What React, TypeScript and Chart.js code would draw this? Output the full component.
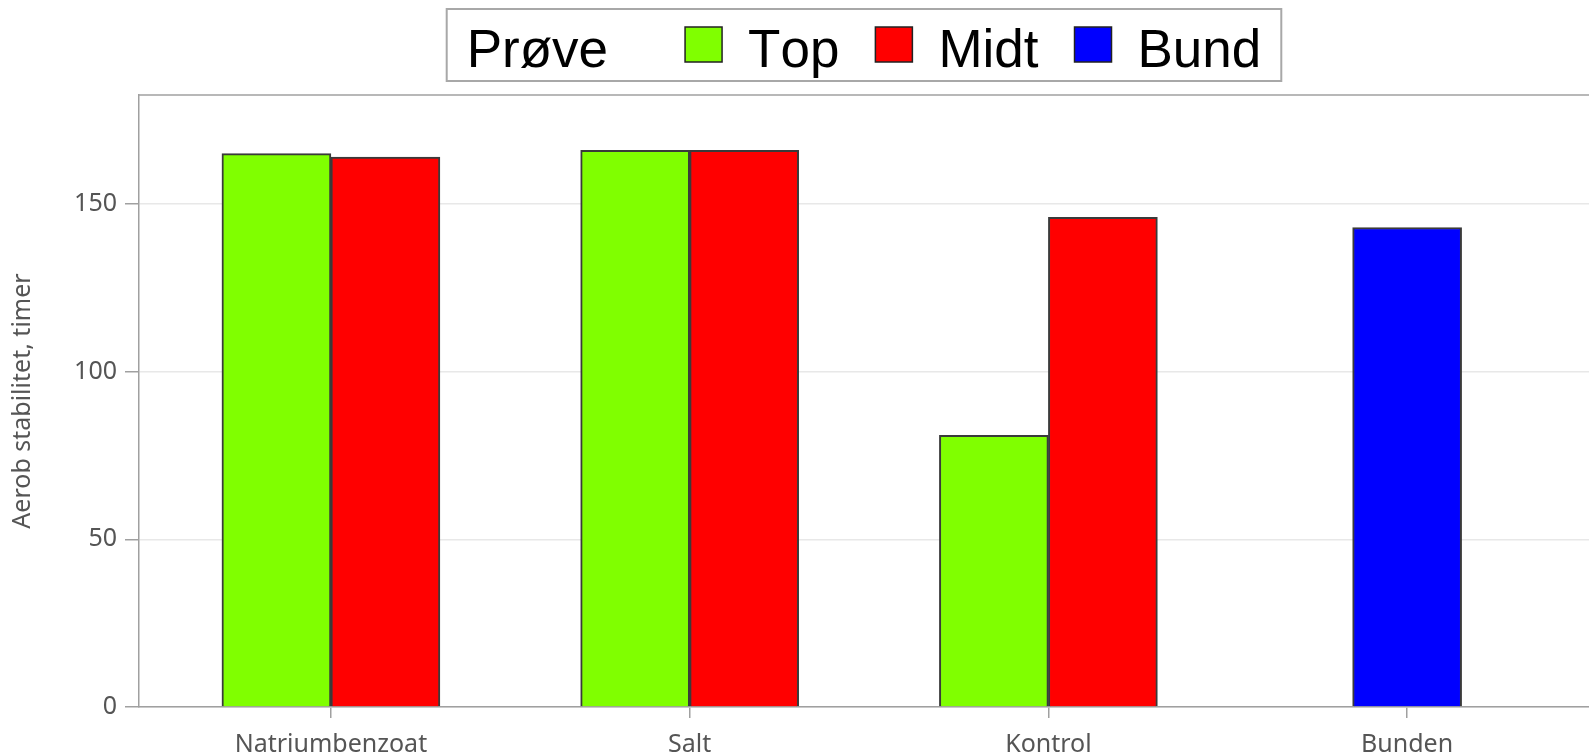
import React, { useEffect, useRef } from "react";
import { Chart, registerables } from "chart.js";

Chart.register(...registerables);

const categories = ["Natriumbenzoat", "Salt", "Kontrol", "Bunden"];
const seriesNames = ["Top", "Midt", "Bund"];
const topValues: (number | null)[] = [165, 166, 81, null];
const midtValues: (number | null)[] = [164, 166, 146, null];
const bundValues: (number | null)[] = [null, null, null, 143];
const seriesColors = ["#80FF00", "#FF0000", "#0000FF"];
const legendTitle = "Prøve";
const yTitle = "Aerob stabilitet, timer";
const yTicks = [0, 50, 100, 150];

const AXIS_FONT = "'Noto Sans', 'Open Sans', sans-serif";
const LEGEND_FONT = "'Liberation Sans', Arial, sans-serif";
const FRAME = "#a0a0a0";

const legendPlugin = {
  id: "customLegend",
  afterDraw(chart: any) {
    const ctx = chart.ctx;
    const area = chart.chartArea;
    ctx.save();
    ctx.font = `53px ${LEGEND_FONT}`;
    try {
      (ctx as any).fontKerning = "none";
    } catch (e) {}
    const padL = 20;
    const padR = 20;
    const titleGap = 77;
    const box = 37;
    const boxText = 26;
    const itemGap = 36;
    const titleW = ctx.measureText(legendTitle).width;
    const widths = seriesNames.map((s) => ctx.measureText(s).width);
    let total = padL + titleW + titleGap + padR;
    widths.forEach((w, i) => {
      total += box + boxText + w + (i < widths.length - 1 ? itemGap : 0);
    });
    const cx = (area.left + area.right) / 2;
    const left = cx - total / 2;
    const top = 9;
    const bottom = 81;
    ctx.strokeStyle = "#a8a8a8";
    ctx.lineWidth = 2;
    ctx.strokeRect(left, top, total, bottom - top);
    ctx.fillStyle = "#000";
    ctx.textBaseline = "alphabetic";
    ctx.textAlign = "left";
    let x = left + padL;
    ctx.fillText(legendTitle, x, 67);
    x += titleW + titleGap;
    seriesNames.forEach((s, i) => {
      ctx.fillStyle = seriesColors[i];
      ctx.fillRect(x, 27, box, 35);
      ctx.strokeStyle = "#222";
      ctx.lineWidth = 1.5;
      ctx.strokeRect(x, 27, box, 35);
      x += box + boxText;
      ctx.fillStyle = "#000";
      ctx.fillText(s, x, 67);
      x += widths[i] + itemGap;
    });
    ctx.restore();
  },
};

const framePlugin = {
  id: "frame",
  afterDatasetsDraw(chart: any) {
    const { ctx, chartArea } = chart;
    ctx.save();
    ctx.strokeStyle = FRAME;
    ctx.lineWidth = 1.5;
    ctx.beginPath();
    ctx.moveTo(chartArea.left, chartArea.top);
    ctx.lineTo(chartArea.right, chartArea.top);
    ctx.stroke();
    ctx.restore();
  },
};

export default function App() {
  const ref = useRef<HTMLCanvasElement | null>(null);
  useEffect(() => {
    document.body.style.margin = "0";
    document.body.style.overflow = "hidden";
    if (!ref.current) return;
    const mk = (vals: (number | null)[]) => vals.map((v, i) => ({ x: i, y: v }));
    const allVals = [topValues, midtValues, bundValues];
    const chart = new Chart(ref.current, {
      type: "bar",
      data: {
        datasets: seriesNames.map((name, i) => ({
          label: name,
          data: mk(allVals[i]) as any,
          backgroundColor: seriesColors[i],
          borderColor: "#3a3a3a",
          borderWidth: 2,
          barThickness: 109,
          skipNull: true,
        })),
      },
      options: {
        animation: false,
        responsive: false,
        layout: { padding: { top: 95, left: 0, right: 0, bottom: 0 } },
        plugins: {
          legend: { display: false },
          tooltip: { enabled: false },
        },
        scales: {
          x: {
            type: "linear",
            min: -0.535,
            max: 3.507,
            offset: false,
            afterFit: (s: any) => {
              s.height = 49;
            },
            afterBuildTicks: (s: any) => {
              s.ticks = categories.map((_, i) => ({ value: i }));
            },
            grid: {
              offset: false,
              drawOnChartArea: false,
              drawTicks: true,
              tickLength: 11,
              tickColor: FRAME,
              lineWidth: 1.5,
            },
            border: { display: true, color: FRAME, width: 1.5 },
            ticks: {
              includeBounds: false,
              stepSize: 1,
              padding: 12,
              color: "#555",
              font: { family: AXIS_FONT, size: 25 },
              callback: (v: any) => categories[Math.round(Number(v))] ?? "",
              maxRotation: 0,
              autoSkip: false,
            },
          },
          y: {
            type: "linear",
            min: 0,
            max: 182.5,
            afterFit: (s: any) => {
              s.width = 139;
            },
            afterBuildTicks: (s: any) => {
              s.ticks = yTicks.map((v) => ({ value: v }));
            },
            grid: {
              color: "#e8e8e8",
              lineWidth: 1.5,
              tickColor: FRAME,
              tickLength: 14,
              drawTicks: true,
            },
            border: { display: true, color: FRAME, width: 1.5 },
            ticks: {
              includeBounds: false,
              stepSize: 50,
              padding: 8,
              color: "#555",
              font: { family: AXIS_FONT, size: 25 },
            },
            title: {
              display: true,
              text: yTitle,
              color: "#555",
              font: { family: AXIS_FONT, size: 25 },
              padding: { top: 8, bottom: 0 },
            },
          },
        },
      },
      plugins: [legendPlugin, framePlugin],
    });
    return () => chart.destroy();
  }, []);
  return (
    <div style={{ width: 1589, height: 756, background: "#fff" }}>
      <canvas ref={ref} width={1589} height={756} style={{ display: "block" }} />
    </div>
  );
}
